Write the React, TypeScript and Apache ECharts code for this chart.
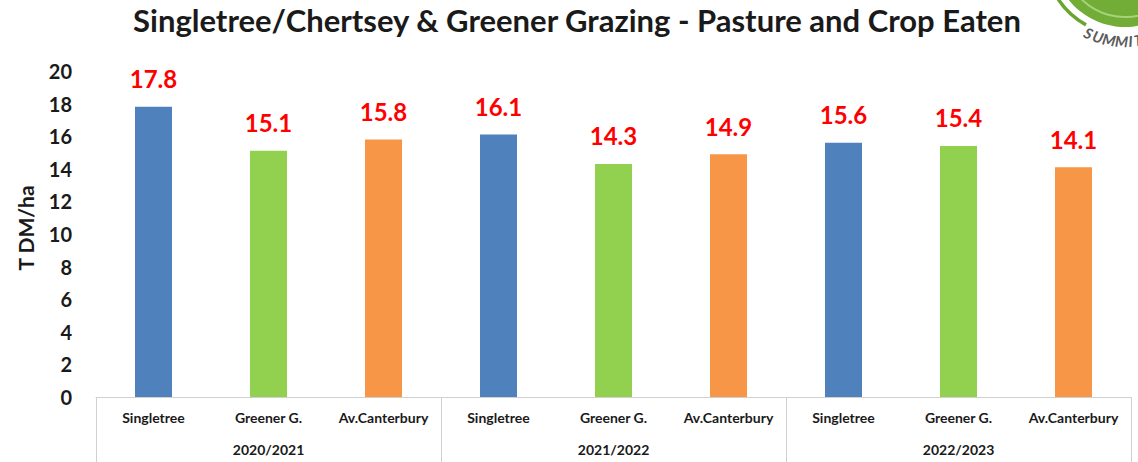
import React, { useEffect, useRef } from "react";
import * as echarts from "echarts";

const categories = [
  "Singletree", "Greener G.", "Av.Canterbury",
  "Singletree", "Greener G.", "Av.Canterbury",
  "Singletree", "Greener G.", "Av.Canterbury",
];
const seasons = ["2020/2021", "2021/2022", "2022/2023"];
const values = [17.8, 15.1, 15.8, 16.1, 14.3, 14.9, 15.6, 15.4, 14.1];
const barColors = ["#4f81bd", "#92d050", "#f79646"];
const yTicks = { min: 0, max: 20, interval: 2 };
const logoLetters = ["S", "U", "M", "M", "I", "T"];

const FONT = "Lato, 'Open Sans', sans-serif";

export default function App() {
  const ref = useRef<HTMLDivElement>(null);
  useEffect(() => {
    if (!ref.current) return;
    const chart = echarts.init(ref.current, null, { renderer: "svg" });
    const cx = 1125, cy = -45;
    const r = 86;
    const font = "italic bold 15px " + FONT;
    let acc = 0;
    const letterGraphics = logoLetters.map((ch) => {
      const widthPx = ch === "M" ? 12 : ch === "I" ? 5 : ch === "U" ? 10 : 9;
      const centerPx = acc + widthPx / 2;
      acc += widthPx + 0.5;
      const deg = 118 - (centerPx / r) * (180 / Math.PI);
      const ang = (deg * Math.PI) / 180;
      return {
        type: "text",
        x: cx + r * Math.cos(ang),
        y: cy + r * Math.sin(ang),
        rotation: ((90 - deg) * Math.PI) / 180,
        style: {
          text: ch,
          fill: "#5a5a5a",
          font,
          align: "center",
          verticalAlign: "middle",
        },
      };
    });
    chart.setOption({
      animation: false,
      textStyle: { fontFamily: FONT },
      title: {
        text: "Singletree/Chertsey & Greener Grazing - Pasture and Crop Eaten",
        left: 577,
        textAlign: "center",
        top: 4,
        padding: 0,
        textStyle: { fontSize: 31, fontWeight: "bold", color: "#1a1a1a", fontFamily: FONT },
      },
      graphic: [
        { type: "circle", shape: { cx, cy, r: 72 }, style: { fill: "#72ad37" } },
        { type: "arc", shape: { cx, cy, r: 62, startAngle: 0.5, endAngle: 2.6 }, style: { stroke: "#a7d37a", lineWidth: 2, fill: "none" } },
        { type: "arc", shape: { cx, cy, r: 80, startAngle: 2.08, endAngle: 2.75 }, style: { stroke: "#6aa52f", lineWidth: 3.5, fill: "none" } },
        ...letterGraphics,
      ],
      grid: { left: 96, right: 7, top: 71, bottom: 65 },
      xAxis: [
        {
          type: "category",
          data: categories,
          position: "bottom",
          axisLine: { show: true, lineStyle: { color: "#d0d0d0", width: 1 } },
          axisTick: { show: false },
          axisLabel: { margin: 13, fontSize: 14, fontWeight: "bold", color: "#1a1a1a", interval: 0 },
        },
        {
          type: "category",
          data: seasons,
          position: "bottom",
          axisLine: { show: false },
          axisTick: { show: true, length: 70, lineStyle: { color: "#d0d0d0" } },
          axisLabel: { margin: 45, fontSize: 14, fontWeight: "bold", color: "#1a1a1a" },
        },
      ],
      yAxis: {
        type: "value",
        min: yTicks.min,
        max: yTicks.max,
        interval: yTicks.interval,
        name: "T DM/ha",
        nameLocation: "middle",
        nameGap: 60,
        nameRotate: 90,
        nameTextStyle: { fontSize: 21, fontWeight: "bold", color: "#1a1a1a", padding: [0, 0, 0, 12] },
        axisLine: { show: false },
        axisTick: { show: false },
        splitLine: { show: false },
        axisLabel: { margin: 24, fontSize: 20, fontWeight: "bold", color: "#1a1a1a" },
      },
      series: [
        {
          type: "bar",
          xAxisIndex: 0,
          barWidth: 37,
          data: values.map((v, i) => ({ value: v, itemStyle: { color: barColors[i % 3] } })),
          label: {
            show: true,
            position: "top",
            distance: 16,
            color: "#ff0000",
            fontSize: 24,
            fontWeight: "bold",
            formatter: (p: any) => p.value.toFixed(1),
          },
        },
      ],
    });
    return () => chart.dispose();
  }, []);
  return (
    <div
      ref={ref}
      style={{ position: "absolute", left: 0, top: 0, width: 1138, height: 462, background: "#fff" }}
    />
  );
}
